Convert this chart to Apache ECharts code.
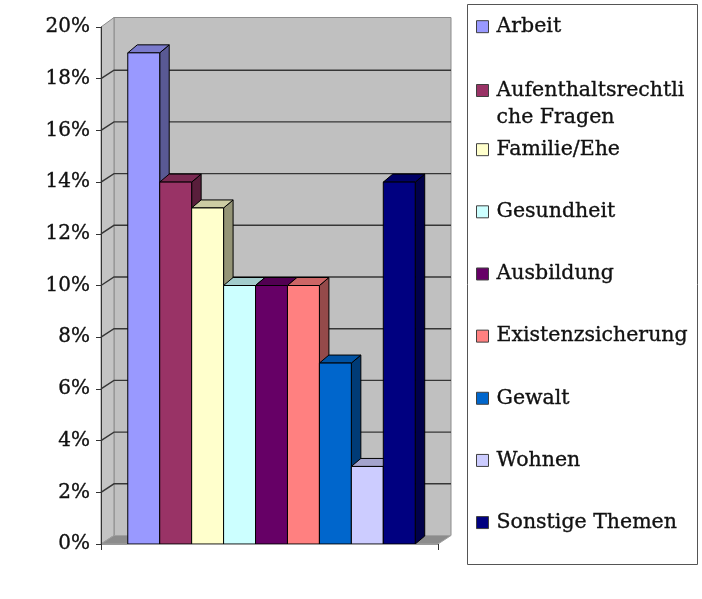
<!DOCTYPE html>
<html><head><meta charset="utf-8">
<script src="https://cdn.jsdelivr.net/npm/echarts@6/dist/echarts.min.js"></script>
<style>html,body{margin:0;padding:0;background:#fff}#c{width:702px;height:599px}</style>
</head><body><div id="c"></div>
<script>
const categories = ['Arbeit','Aufenthaltsrechtliche Fragen','Familie/Ehe','Gesundheit','Ausbildung','Existenzsicherung','Gewalt','Wohnen','Sonstige Themen'];
const values = [19, 14, 13, 10, 10, 10, 7, 3, 14];
const colors = ['#9999FF','#993366','#FFFFCC','#CCFFFF','#660066','#FF8080','#0066CC','#CCCCFF','#000080'];
const yMin = 0, yMax = 20, yStep = 2;
const yTicks = [0, 2, 4, 6, 8, 10, 12, 14, 16, 18, 20];

const FONT = 'DejaVu Serif';
const GAP = 0.147;
const BAR_SHIFT = 2;
const DX = 13, DY = -8.5;
const BDX = 9.5, BDY = -8;

function shade(hex, f) {
  const n = parseInt(hex.slice(1), 16);
  const r = Math.round(((n >> 16) & 255) * f), g = Math.round(((n >> 8) & 255) * f), b = Math.round((n & 255) * f);
  return 'rgb(' + r + ',' + g + ',' + b + ')';
}

function frameRender(params, api) {
  const c0 = api.coord([0, yMin]);
  const band = api.size([1, 0])[0];
  const xL = c0[0] - band / 2, xR = c0[0] + band / 2;
  const y0 = c0[1], yT = api.coord([0, yMax])[1];
  const ch = [];
  ch.push({type: 'polygon', shape: {points: [[xL + DX, yT + DY - 1], [xR + DX, yT + DY - 1], [xR + DX, y0 + DY], [xL + DX, y0 + DY]]},
    style: {fill: '#c0c0c0', stroke: '#8c8c8c', lineWidth: 1}});
  ch.push({type: 'polygon', shape: {points: [[xL, yT], [xL + DX, yT + DY - 1], [xL + DX, y0 + DY], [xL, y0]]},
    style: {fill: '#c4c4c4', stroke: '#8c8c8c', lineWidth: 1}});
  ch.push({type: 'polygon', shape: {points: [[xL, y0], [xL + DX, y0 + DY], [xR + DX, y0 + DY], [xR, y0]]},
    style: {fill: '#8c8c8c', stroke: '#a0a0a0', lineWidth: 1}});
  yTicks.filter(t => t > yMin && t < yMax).forEach(t => {
    const y = api.coord([0, t])[1];
    ch.push({type: 'polyline', shape: {points: [[xL, y], [xL + DX, y + DY], [xR + DX, y + DY]]},
      style: {fill: null, stroke: '#363636', lineWidth: 1.4}});
  });
  return {type: 'group', children: ch};
}

function barRender(i) {
  return function (params, api) {
    const v = api.value(1);
    const c0 = api.coord([0, yMin]);
    const cv = api.coord([0, v]);
    const band = api.size([1, 0])[0];
    const gw = band * (1 - GAP), bw = gw / categories.length;
    const x0 = c0[0] - gw / 2 + i * bw + BAR_SHIFT, x1 = x0 + bw;
    const y0 = c0[1], yv = cv[1];
    const col = colors[i];
    const st = {stroke: '#000', lineWidth: 1, lineJoin: 'round'};
    return {type: 'group', children: [
      {type: 'polygon', shape: {points: [[x1, yv], [x1 + BDX, yv + BDY], [x1 + BDX, y0 + BDY], [x1, y0]]}, style: Object.assign({fill: shade(col, 0.58)}, st)},
      {type: 'polygon', shape: {points: [[x0, yv], [x0 + BDX, yv + BDY], [x1 + BDX, yv + BDY], [x1, yv]]}, style: Object.assign({fill: shade(col, 0.8)}, st)},
      {type: 'rect', shape: {x: x0, y: yv, width: bw, height: y0 - yv}, style: Object.assign({fill: col}, st)}
    ]};
  };
}

const legendText = {fontFamily: FONT, fontSize: 20.5, color: '#111', textBorderColor: '#111', textBorderWidth: 0.35,
  padding: [0, 0, 0, 3]};
const legendCommon = {orient: 'vertical', left: 476, padding: 0, icon: 'rect', itemWidth: 12, itemHeight: 12,
  itemStyle: {borderColor: '#404040', borderWidth: 1}, selectedMode: false};

const chart = echarts.init(document.getElementById('c'), null, {renderer: 'canvas'});
chart.setOption({
  backgroundColor: '#fff',
  animation: false,
  grid: {left: 101, right: 264, top: 27, bottom: 55},
  xAxis: {type: 'category', data: [''], z: 10,
    axisLine: {show: true, lineStyle: {color: '#9a9a9a'}},
    axisTick: {show: true, length: 6, lineStyle: {color: '#333'}},
    axisLabel: {show: false}, splitLine: {show: false}},
  yAxis: {type: 'value', min: yMin, max: yMax, interval: yStep, z: 10,
    axisLine: {show: true, lineStyle: {color: '#333'}},
    axisTick: {show: true, length: 5, lineStyle: {color: '#333'}},
    axisLabel: {formatter: '{value}%', fontFamily: FONT, fontSize: 20, color: '#111', margin: 11,
      textBorderColor: '#111', textBorderWidth: 0.35},
    splitLine: {show: false}},
  legend: [
    Object.assign({}, legendCommon, {top: 16, data: [categories[0]], textStyle: legendText}),
    Object.assign({}, legendCommon, {top: 50, data: [categories[1]],
      formatter: () => '\nAufenthaltsrechtli\nche Fragen',
      textStyle: Object.assign({}, legendText, {lineHeight: 27})}),
    Object.assign({}, legendCommon, {top: 139, itemGap: 40.8, data: categories.slice(2), textStyle: legendText})
  ],
  graphic: [{type: 'rect', silent: true, shape: {x: 467.5, y: 4.5, width: 230, height: 560},
    style: {fill: 'none', stroke: '#555', lineWidth: 1}}],
  series: [{type: 'custom', name: 'frame', z: 1, silent: true, data: [[0, 0]], renderItem: frameRender}]
    .concat(categories.map((name, i) => ({type: 'custom', name: name, z: 2, data: [[0, values[i]]],
      itemStyle: {color: colors[i]}, renderItem: barRender(i)})))
});
</script></body></html>
